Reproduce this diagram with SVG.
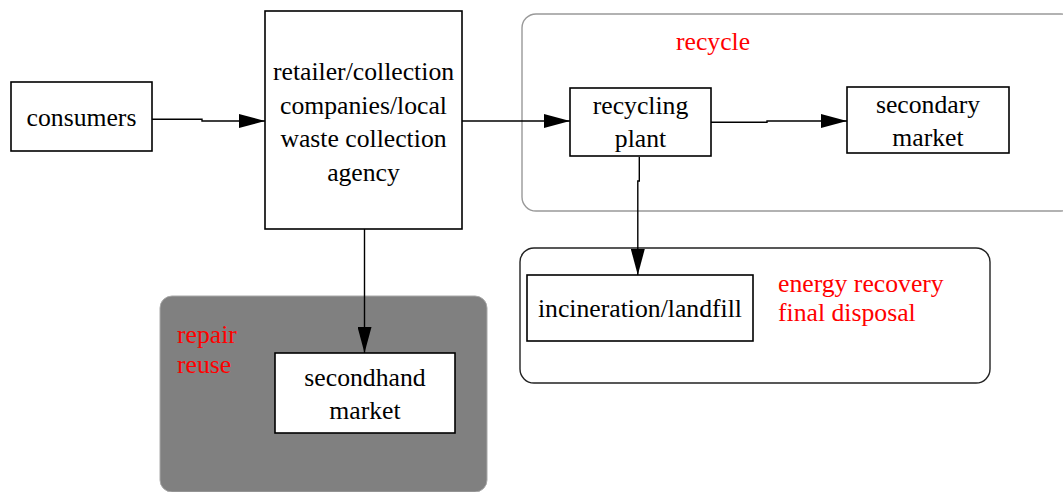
<svg xmlns="http://www.w3.org/2000/svg" width="1063" height="492" viewBox="0 0 1063 492" font-family="'Liberation Serif', 'DejaVu Serif', serif">
  <defs>
    <marker id="arrow" markerUnits="userSpaceOnUse" markerWidth="26" markerHeight="14" refX="26" refY="7" orient="auto">
      <path d="M0,0 L26,7 L0,14 z" fill="#000"/>
    </marker>
    <style>
      .box { fill: #fff; stroke: #000; stroke-width: 1.6; }
      .lbl { font-family: 'Liberation Serif', 'DejaVu Serif', serif; font-size: 25.7px; fill: #000; text-anchor: middle; }
      .note { font-family: 'Liberation Serif', 'DejaVu Serif', serif; font-size: 25.7px; fill: #ff0000; }
      .edge { fill: none; stroke: #000; stroke-width: 1.4; marker-end: url(#arrow); }
    </style>
  </defs>
  <rect width="1063" height="492" fill="#fff"/>

  <!-- clusters -->
  <g id="cluster-recycle">
    <rect x="522" y="14" width="553" height="197" rx="14" fill="#fff" stroke="#999" stroke-width="1.4"/>
    <text class="note" x="676" y="50">recycle</text>
  </g>
  <g id="cluster-energy">
    <rect x="520" y="248" width="470" height="135" rx="14" fill="#fff" stroke="#222" stroke-width="1.4"/>
    <text class="note" x="778" y="292">energy recovery</text>
    <text class="note" x="778" y="321">final disposal</text>
  </g>
  <g id="cluster-repair">
    <rect x="160" y="296" width="327" height="196" rx="12" fill="#808080" stroke="#a8a8a8" stroke-width="1"/>
    <text class="note" x="177" y="343">repair</text>
    <text class="note" x="177" y="373">reuse</text>
  </g>

  <!-- connectors -->
  <g id="connectors">
    <path class="edge" d="M152,119.3 L202,119.3 L202,121 L265,121"/>
    <path class="edge" d="M462,121 L570,121"/>
    <path class="edge" d="M711,122.3 L767,122.3 L767,121 L847,121"/>
    <path class="edge" d="M639.3,157 L639.3,181 L637.8,181 L637.8,275"/>
    <path class="edge" d="M364.5,229 L364.5,353"/>
  </g>

  <!-- nodes -->
  <g id="consumers">
    <rect class="box" x="11" y="82" width="141" height="69"/>
    <text class="lbl" x="81.5" y="125.5">consumers</text>
  </g>
  <g id="retailer">
    <rect class="box" x="265" y="11" width="197" height="218"/>
    <text class="lbl" x="363.5" y="80">retailer/collection</text>
    <text class="lbl" x="363.5" y="113.5">companies/local</text>
    <text class="lbl" x="363.5" y="147">waste collection</text>
    <text class="lbl" x="363.5" y="180.5">agency</text>
  </g>
  <g id="recycling-plant">
    <rect class="box" x="570" y="88" width="141" height="68"/>
    <text class="lbl" x="640.5" y="114">recycling</text>
    <text class="lbl" x="640.5" y="147">plant</text>
  </g>
  <g id="secondary-market">
    <rect class="box" x="847" y="87" width="162" height="66"/>
    <text class="lbl" x="928" y="112.5">secondary</text>
    <text class="lbl" x="928" y="146">market</text>
  </g>
  <g id="incineration">
    <rect class="box" x="527" y="275" width="226" height="66"/>
    <text class="lbl" x="640" y="317">incineration/landfill</text>
  </g>
  <g id="secondhand-market">
    <rect class="box" x="275" y="353" width="180" height="80"/>
    <text class="lbl" x="365" y="386">secondhand</text>
    <text class="lbl" x="365" y="419">market</text>
  </g>
</svg>
